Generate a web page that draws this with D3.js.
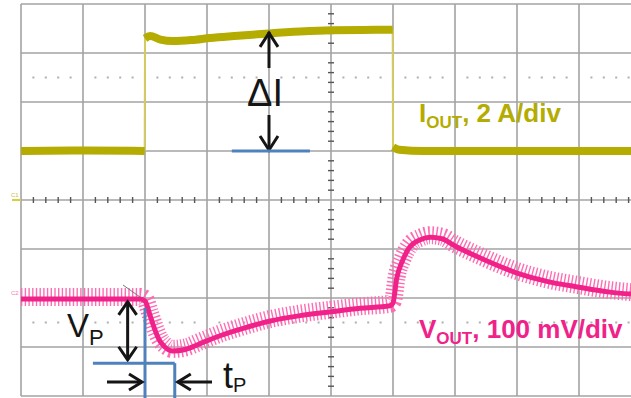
<!DOCTYPE html>
<html>
<head>
<meta charset="utf-8">
<script src="https://cdn.jsdelivr.net/npm/d3@7"></script>
<style>
  body { margin: 0; background: #fff; }
  svg { display: block; font-family: "Liberation Sans", Arial, sans-serif; }
</style>
</head>
<body>
<svg id="scope" width="631" height="398"></svg>
<script>
// time in divisions (x), current in A (2 A/div), output voltage in mV (100 mV/div)
let iTime = [0, 1.0, 1.995, 2.0, 2.08, 2.25, 2.45, 2.75, 3.05, 3.5, 4.0, 4.5, 5.0, 5.5, 5.995, 6.0, 6.1, 6.5, 8.0, 9.84];
let iOut  = [2.0, 2.02, 2.0, 6.6, 6.69, 6.55, 6.49, 6.53, 6.61, 6.7, 6.8, 6.88, 6.93, 6.94, 6.95, 2.16, 2.05, 2.0, 2.0, 2.0];

let vTime = [0, 0.95, 1.92, 2.0, 2.08, 2.16, 2.24, 2.32, 2.44, 2.65, 2.89, 3.21, 3.61, 4.02, 4.5, 5.0, 5.47, 5.95,
             6.0, 6.06, 6.15, 6.27, 6.44, 6.6, 6.79, 7.0, 7.4, 8.0, 8.45, 9.0, 9.5, 9.84];
let vOut  = [-2, -2, -2, -6, -35, -65, -88, -100, -108, -105, -93, -77, -61, -47, -36, -28, -21, -16,
             -10, 40, 75, 104, 119, 124, 121, 106, 82, 51, 35, 22, 12, 8];

let iLabel = ["I", "OUT", ", 2 A/div"];
let vLabel = ["V", "OUT", ", 100 mV/div"];

const yellow = "#b4ac00";
const pink = "#f0228a";
const blue = "#4f81bd";
const ink = "#151515";

let svg = d3.select("#scope");

// scales: 10 x 8 graticule
let x = d3.scaleLinear().domain([0, 10]).range([21, 641]);
let yDiv = d3.scaleLinear().domain([-4, 4]).range([396, 4]);
let yI = d3.scaleLinear().domain([-8, 8]).range([396, 4]);       // C1 ground at centre
let yV = d3.scaleLinear().domain([-200, 200]).range([396, 200]); // C2 ground one div below centre

// graticule
let grid = svg.append("g");
grid.selectAll("line.v").data(d3.range(0, 11)).enter().append("line")
    .attr("x1", d => x(d)).attr("x2", d => x(d))
    .attr("y1", yDiv(4)).attr("y2", yDiv(-4))
    .attr("stroke", "#a3a3a3").attr("stroke-width", 1.6);
grid.selectAll("line.h").data(d3.range(-4, 5)).enter().append("line")
    .attr("x1", x(0)).attr("x2", x(10))
    .attr("y1", d => yDiv(d)).attr("y2", d => yDiv(d))
    .attr("stroke", "#a3a3a3").attr("stroke-width", 1.6);

// minor ticks on the centre lines
let minorX = d3.range(0, 50).map(d => d / 5).filter(d => d % 1 !== 0);
let minorY = d3.range(-20, 20).map(d => d / 5).filter(d => d % 1 !== 0);
grid.selectAll("line.mx").data(minorX).enter().append("line")
    .attr("x1", d => x(d)).attr("x2", d => x(d))
    .attr("y1", yDiv(0) - 3).attr("y2", yDiv(0) + 3)
    .attr("stroke", "#555").attr("stroke-width", 1.4);
grid.selectAll("line.my").data(minorY).enter().append("line")
    .attr("x1", x(5) - 3).attr("x2", x(5) + 3)
    .attr("y1", d => yDiv(d)).attr("y2", d => yDiv(d))
    .attr("stroke", "#555").attr("stroke-width", 1.4);

// dotted level lines at +/- 2.5 div
[2.5, -2.5].forEach(lv => {
    grid.selectAll(null).data(minorX).enter().append("rect")
        .attr("x", d => x(d) - 1).attr("y", yDiv(lv) - 1)
        .attr("width", 2).attr("height", 2)
        .attr("fill", "#b0b0b0");
});

// channel markers
svg.append("line").attr("x1", 12).attr("x2", x(0)).attr("y1", yI(0)).attr("y2", yI(0))
    .attr("stroke", "#d8cf40").attr("stroke-width", 2);
svg.append("text").attr("x", 11).attr("y", yI(0) - 3).text("C1")
    .attr("font-size", 6).attr("fill", "#c8c040");
svg.append("text").attr("x", 11).attr("y", yV(0) - 3).text("C2")
    .attr("font-size", 6).attr("fill", "#f080b8");

// ---- IOUT trace: thin fast edges, thick flat parts
let iPts = iTime.map((t, k) => [x(t), yI(iOut[k])]);
let runs = [[iPts[0]]];
for (let k = 1; k < iPts.length; k++) {
    if (iTime[k] - iTime[k - 1] < 0.01) {
        svg.append("line")
            .attr("x1", iPts[k - 1][0]).attr("y1", iPts[k - 1][1])
            .attr("x2", iPts[k][0]).attr("y2", iPts[k][1])
            .attr("stroke", "#d4cc60").attr("stroke-width", 2);
        runs.push([]);
    }
    runs[runs.length - 1].push(iPts[k]);
}
let iLine = d3.line().curve(d3.curveMonotoneX);
svg.selectAll("path.iout").data(runs).enter().append("path")
    .attr("d", d => iLine(d))
    .attr("fill", "none").attr("stroke", yellow)
    .attr("stroke-width", 8).attr("stroke-linejoin", "round");

// ---- VOUT trace with switching ripple
let vLine = d3.line()
    .x((d, k) => x(vTime[k]))
    .y(d => yV(d))
    .curve(d3.curveMonotoneX);
svg.append("path").attr("d", vLine(vOut))
    .attr("transform", "translate(0,-2)")
    .attr("fill", "none").attr("stroke", "#ff6cb4")
    .attr("stroke-width", 18).attr("stroke-dasharray", "1.4 2.3");
svg.append("path").attr("d", vLine(vOut))
    .attr("fill", "none").attr("stroke", pink)
    .attr("stroke-width", 5);

// small cursor artefact
svg.append("line").attr("x1", 123).attr("y1", 285).attr("x2", 140).attr("y2", 297)
    .attr("stroke", "#777").attr("stroke-width", 1);

// ---- annotations
function arrowHead(g, tx, ty, dx, dy, len, half) {
    // chevron at (tx,ty) pointing along (dx,dy)
    let px = -dy, py = dx;
    g.append("path")
        .attr("d", `M${tx - dx * len + px * half},${ty - dy * len + py * half}L${tx},${ty}L${tx - dx * len - px * half},${ty - dy * len - py * half}`)
        .attr("fill", "none").attr("stroke", ink).attr("stroke-width", 3)
        .attr("stroke-linejoin", "miter");
}
let ann = svg.append("g");

// delta I
let xa = x(4.0);
ann.append("line").attr("x1", xa).attr("x2", xa).attr("y1", yI(6.86)).attr("y2", 68)
    .attr("stroke", ink).attr("stroke-width", 3);
arrowHead(ann, xa, yI(6.86) + 1, 0, -1, 14, 9);
ann.append("line").attr("x1", xa).attr("x2", xa).attr("y1", 115).attr("y2", yI(2) - 1)
    .attr("stroke", ink).attr("stroke-width", 3);
arrowHead(ann, xa, yI(2) - 1, 0, 1, 14, 9);
ann.append("line").attr("x1", x(3.4)).attr("x2", x(4.66)).attr("y1", yI(2)).attr("y2", yI(2))
    .attr("stroke", blue).attr("stroke-width", 3);
ann.append("text").attr("x", 247).attr("y", 106).text("ΔI")
    .attr("font-size", 38).attr("fill", ink);

// VP
let xv = x(1.72);
ann.append("line").attr("x1", xv).attr("x2", xv).attr("y1", yV(-8)).attr("y2", yV(-126))
    .attr("stroke", ink).attr("stroke-width", 3);
arrowHead(ann, xv, yV(-8), 0, -1, 13, 9);
arrowHead(ann, xv, yV(-126), 0, 1, 13, 9);
ann.append("line").attr("x1", x(2.0)).attr("x2", x(2.0)).attr("y1", 308).attr("y2", 398)
    .attr("stroke", blue).attr("stroke-width", 3);
ann.append("line").attr("x1", x(1.16)).attr("x2", x(2.48)).attr("y1", yV(-133)).attr("y2", yV(-133))
    .attr("stroke", blue).attr("stroke-width", 3);
ann.append("line").attr("x1", x(2.48)).attr("x2", x(2.48)).attr("y1", yV(-133)).attr("y2", 398)
    .attr("stroke", blue).attr("stroke-width", 3);
let vp = ann.append("text").attr("x", 67).attr("y", 337).attr("fill", ink);
vp.append("tspan").text("V").attr("font-size", 33);
vp.append("tspan").text("P").attr("font-size", 22).attr("dy", 8);

// tP
ann.append("line").attr("x1", 107).attr("x2", x(2.0) - 3).attr("y1", 382).attr("y2", 382)
    .attr("stroke", ink).attr("stroke-width", 3);
arrowHead(ann, x(2.0) - 3, 382, 1, 0, 13, 8);
ann.append("line").attr("x1", 212).attr("x2", x(2.48) + 3).attr("y1", 382).attr("y2", 382)
    .attr("stroke", ink).attr("stroke-width", 3);
arrowHead(ann, x(2.48) + 3, 382, -1, 0, 13, 8);
let tp = ann.append("text").attr("x", 223).attr("y", 388).attr("fill", ink);
tp.append("tspan").text("t").attr("font-size", 36);
tp.append("tspan").text("P").attr("font-size", 20).attr("dy", 4);

// channel labels
function chanLabel(parts, px, py, col) {
    let t = svg.append("text").attr("x", px).attr("y", py)
        .attr("fill", col).attr("font-weight", "bold");
    t.append("tspan").text(parts[0]).attr("font-size", 26);
    t.append("tspan").text(parts[1]).attr("font-size", 17).attr("dy", 6);
    t.append("tspan").text(parts[2]).attr("font-size", 26).attr("dy", -6);
}
chanLabel(iLabel, 419, 122, yellow);
chanLabel(vLabel, 419, 338, pink);
</script>
</body>
</html>
